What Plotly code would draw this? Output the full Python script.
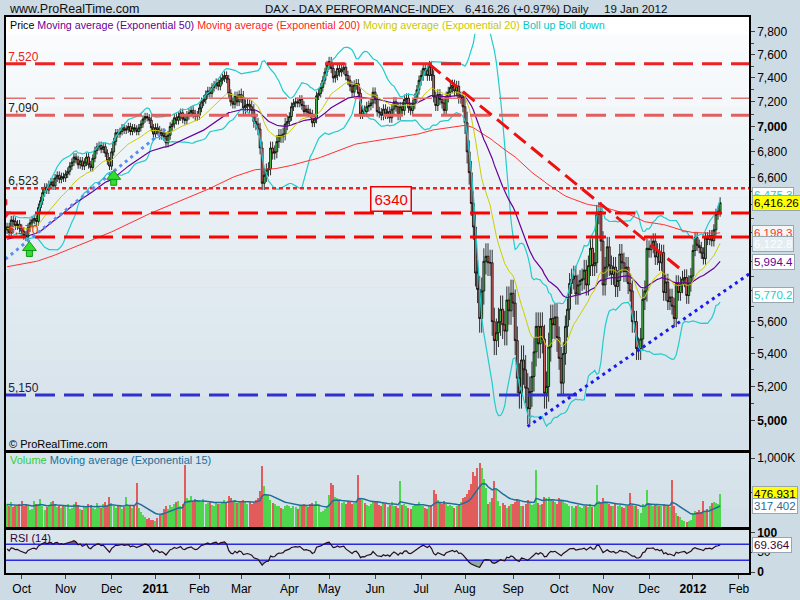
import numpy as np
import pandas as pd
import plotly.graph_objects as go

# ---------------- data ----------------
close_2010_09 = [6240, 6200, 6290, 6280, 6250, 6260, 6230]
close_2010_10 = [6210, 6180, 6170, 6235, 6270, 6290, 6300, 6280, 6380, 6430, 6490,
                 6530, 6510, 6550, 6570, 6540, 6600, 6620, 6590, 6610, 6600]
close_2010_11 = [6630, 6650, 6690, 6720, 6760, 6740, 6700, 6730, 6690, 6720, 6760,
                 6700, 6680, 6750, 6810, 6840, 6850, 6820, 6840, 6790, 6730, 6690]
close_2010_12 = [6800, 6880, 6950, 6940, 6960, 6990, 6970, 6980, 7000, 6960, 6990,
                 6980, 6960, 6990, 7020, 7060, 7080, 7070, 7050, 6990, 6940]
close_2011_01 = [6990, 6970, 6930, 6950, 6920, 6870, 6930, 7000, 7020, 7070, 7050,
                 7080, 7110, 7060, 7050, 7090, 7110, 7130, 7100, 7080, 7090]
close_2011_02 = [7150, 7200, 7220, 7260, 7290, 7270, 7320, 7340, 7360, 7330, 7380,
                 7400, 7420, 7390, 7270, 7200, 7180, 7250, 7200, 7260]
close_2011_03 = [7240, 7150, 7170, 7180, 7160, 7130, 7040, 7020, 6980, 6830, 6560,
                 6620, 6660, 6670, 6830, 6790, 6800, 6880, 6930, 6920, 6940, 7020, 7040]
close_2011_04 = [7080, 7160, 7190, 7200, 7190, 7220, 7170, 7120, 7140, 7110, 7100,
                 7030, 7060, 7250, 7270, 7320, 7380, 7450, 7510]
close_2011_05 = [7540, 7480, 7400, 7420, 7480, 7450, 7470, 7490, 7420, 7380, 7330,
                 7280, 7340, 7350, 7270, 7100, 7130, 7120, 7160, 7170, 7190, 7280]
close_2011_06 = [7220, 7120, 7110, 7090, 7140, 7100, 7120, 7070, 7140, 7200, 7160,
                 7090, 7160, 7130, 7220, 7230, 7150, 7130, 7180, 7230, 7300, 7380]
close_2011_07 = [7420, 7480, 7460, 7420, 7500, 7420, 7240, 7170, 7260, 7220, 7190,
                 7130, 7240, 7280, 7320, 7340, 7290, 7330, 7230, 7240, 7160]
close_2011_08 = [7030, 6800, 6640, 6410, 6240, 5920, 5810, 5620, 5800, 6000, 6035,
                 5990, 5990, 5600, 5480, 5530, 5600, 5680, 5580, 5540, 5740, 5670, 5785]
close_2011_09 = [5720, 5480, 5250, 5160, 5360, 5300, 5190, 5070, 5170, 5260, 5410,
                 5570, 5460, 5570, 5490, 5160, 5200, 5440, 5620, 5580, 5630, 5500]
close_2011_10 = [5370, 5220, 5400, 5570, 5680, 5850, 5880, 5900, 5780, 5840, 5870,
                 5880, 5940, 5840, 5970, 6090, 5970, 5990, 6330, 6350, 6140]
close_2011_11 = [5840, 5960, 6100, 5970, 5910, 5960, 5830, 5870, 6050, 5990, 5930,
                 5960, 5850, 5800, 5600, 5600, 5430, 5430, 5490, 5745, 5800, 6090]
close_2011_12 = [6080, 6110, 6140, 6030, 6070, 5990, 6060, 5790, 5860, 5730, 5760,
                 5700, 5620, 5850, 5790, 5840, 5880, 5890, 5770, 5850, 5900]
close_2012_01 = [6075, 6166, 6111, 6095, 6057, 6018, 6163, 6152, 6179, 6143, 6220,
                 6332, 6354, 6416.26]
first_open = 6220
# typical wick length (index points) per month, Sep 2010 .. Jan 2012
wick_by_month = [30, 30, 30, 30, 35, 35, 50, 35, 40, 40, 45, 90, 90, 70, 70, 55, 40]

# volume in thousands
vol_2010_09 = [340, 300, 360, 290, 310, 300, 330]
vol_2010_10 = [385, 305, 330, 320, 245, 270, 375, 330, 330, 410, 310, 250, 285, 320,
               365, 375, 330, 290, 300, 280, 310]
vol_2010_11 = [300, 340, 260, 280, 330, 360, 300, 270, 250, 310, 290, 340, 320, 280,
               260, 350, 300, 280, 330, 360, 310, 440]
vol_2010_12 = [350, 300, 280, 320, 300, 270, 290, 440, 300, 320, 280, 310, 640, 280,
               220, 180, 150, 120, 130, 110, 100]
vol_2011_01 = [90, 140, 170, 200, 260, 300, 270, 320, 290, 340, 360, 380, 300, 330,
               900, 420, 400, 450, 380, 410, 390]
vol_2011_02 = [380, 360, 410, 330, 350, 380, 320, 300, 360, 340, 330, 370, 390, 360,
               450, 420, 380, 400, 350, 380]
vol_2011_03 = [370, 400, 380, 340, 360, 330, 360, 400, 420, 520, 880, 590, 480, 470,
               400, 350, 330, 300, 310, 280, 270, 300, 320]
vol_2011_04 = [300, 280, 310, 290, 270, 300, 320, 340, 310, 290, 330, 350, 310, 380,
               300, 220, 240, 260, 290]
vol_2011_05 = [470, 640, 610, 430, 420, 380, 350, 370, 340, 380, 360, 330, 350, 370,
               750, 420, 400, 350, 320, 300, 330, 360]
vol_2011_06 = [370, 380, 320, 300, 350, 330, 290, 320, 360, 300, 310, 280, 660, 320,
               340, 300, 280, 260, 300, 320, 340, 360]
vol_2011_07 = [300, 310, 280, 260, 300, 320, 540, 480, 400, 350, 330, 380, 340, 310,
               320, 300, 280, 300, 330, 360, 420]
vol_2011_08 = [430, 480, 540, 620, 790, 740, 860, 930, 850, 700, 560, 330, 360, 420,
               670, 540, 380, 310, 350, 320, 280, 300, 330]
vol_2011_09 = [330, 360, 410, 380, 300, 310, 340, 400, 360, 320, 330, 830, 350, 320,
               330, 430, 420, 440, 400, 380, 360, 340]
vol_2011_10 = [420, 400, 380, 350, 330, 300, 310, 280, 300, 320, 290, 280, 300, 310,
               290, 330, 290, 300, 610, 380, 350]
vol_2011_11 = [420, 380, 360, 340, 300, 310, 330, 300, 320, 290, 280, 300, 310, 490,
               320, 300, 310, 260, 200, 330, 300, 540]
vol_2011_12 = [350, 320, 300, 340, 330, 310, 300, 330, 320, 300, 290, 680, 300, 210,
               160, 150, 110, 90, 70, 90, 110]
vol_2012_01 = [186, 233, 224, 243, 219, 376, 224, 257, 305, 352, 362, 352, 340, 476.931]

# indicator starting values read at the left edge of the picture
ema20_start, ema50_start, ema200_start, vol_ema_start = 6230, 6150, 5960, 330
rsi_gain_start, rsi_loss_start = 22.0, 17.0

month_tick_labels = ["Oct", "Nov", "Dec", "<b>2011</b>", "Feb", "Mar", "Apr", "May", "Jun",
                     "Jul", "Aug", "Sep", "Oct", "Nov", "Dec", "<b>2012</b>", "Feb"]
price_tick_values = [5000, 5200, 5400, 5600, 5800, 6000, 6200, 6400, 6600, 6800,
                     7000, 7200, 7400, 7600, 7800]
price_tick_text = ["<b>5,000</b>", "5,200", "5,400", "5,600", "", "", "", "", "6,600",
                   "6,800", "<b>7,000</b>", "7,200", "7,400", "7,600", "7,800"]
level_values = [7520, 7230, 7090, 6523, 6340, 6170, 5150]
level_labels = ["7,520", "", "7,090", "6,523", "", "6,170", "5,150"]
last_value_labels = ["6,475.3", "6,416.26", "6,198.3", "6,122.8", "5,994.4", "5,770.2"]
last_value_prices = [6475.3, 6416.26, 6198.3, 6122.8, 5994.4, 5770.2]
volume_labels = ["476,931", "317,402"]
volume_label_values = [476.931, 317.402]
rsi_label, rsi_label_value = "69.364", 69.364
# trend lines (start/end trading-day index, price)
red_trend = ([201.7, 323.3], [7520, 5932])
blue_trend = ([248.9, 354.8], [4967, 5913])
lightblue_trend = ([-0.8, 77.1], [6015, 6995])
signal_up = ([10.7, 51.0], [6075, 6590])
box_6340 = (183.6, 6443, "6340")

# ---------------- assembly ----------------
close_months = [close_2010_09, close_2010_10, close_2010_11, close_2010_12, close_2011_01,
                close_2011_02, close_2011_03, close_2011_04, close_2011_05, close_2011_06,
                close_2011_07, close_2011_08, close_2011_09, close_2011_10, close_2011_11,
                close_2011_12, close_2012_01]
vol_months = [vol_2010_09, vol_2010_10, vol_2010_11, vol_2010_12, vol_2011_01, vol_2011_02,
              vol_2011_03, vol_2011_04, vol_2011_05, vol_2011_06, vol_2011_07, vol_2011_08,
              vol_2011_09, vol_2011_10, vol_2011_11, vol_2011_12, vol_2012_01]
for cm, vm in zip(close_months, vol_months):
    assert len(cm) == len(vm), (len(cm), len(vm))

close = np.array([v for m in close_months for v in m], dtype=float)
vol = np.array([v for m in vol_months for v in m], dtype=float)
wick = np.array([w for m, w in zip(close_months, wick_by_month) for _ in m], dtype=float)
n = len(close)
idx = np.arange(n)
opn = np.r_[first_open, close[:-1]]
high = np.maximum(opn, close) + wick
low = np.minimum(opn, close) - wick

holidays = pd.to_datetime(["2010-12-24", "2010-12-31", "2011-04-22", "2011-04-25", "2011-12-26"])
all_days = pd.bdate_range("2010-09-22", "2012-02-29")
all_days = all_days[~all_days.isin(holidays)]
month_starts = pd.date_range("2010-10-01", "2012-02-01", freq="MS")
tick_idx = [int(np.searchsorted(all_days.values, m.to_datetime64())) for m in month_starts]


def ema(values, span, seed):
    a = 2.0 / (span + 1)
    out = np.empty(len(values))
    prev = seed
    for i, v in enumerate(values):
        prev = prev + a * (v - prev)
        out[i] = prev
    return out


ema20 = ema(close, 20, ema20_start)
ema50 = ema(close, 50, ema50_start)
ema200 = ema(close, 200, ema200_start)
vol_ema = ema(vol, 15, vol_ema_start)
s = pd.Series(close)
mid = s.rolling(20, min_periods=4).mean()
sd = s.rolling(20, min_periods=4).std(ddof=0)
bb_up = (mid + 2 * sd).values
bb_dn = (mid - 2 * sd).values

rsi = np.empty(n)
ag, al = rsi_gain_start, rsi_loss_start
for i in range(n):
    dlt = close[i] - opn[i]
    ag = (ag * 13 + max(dlt, 0)) / 14
    al = (al * 13 + max(-dlt, 0)) / 14
    rsi[i] = 100 - 100 / (1 + ag / al)

# ---------------- geometry ----------------
W, H = 800, 600
ML, MR, MT, MB = 4, 51, 17, 21
PH = H - MT - MB


def fy(px):  # pixel row -> paper fraction
    return (H - MB - px) / PH


X_RANGE = [-0.5, 354.8]
Y_MAIN = [np.log10(4834), np.log10(7933.5)]
dom_main = [fy(455), 1.0]
dom_vol = [fy(533), fy(458)]
dom_rsi = [0.0, fy(536)]
FONT = "Liberation Sans, Arial, sans-serif"

fig = go.Figure()

# indicators
fig.add_trace(go.Scatter(x=idx, y=bb_up, mode="lines", line=dict(color="#22cccc", width=1.2),
                         xaxis="x", yaxis="y"))
fig.add_trace(go.Scatter(x=idx, y=bb_dn, mode="lines", line=dict(color="#22cccc", width=1.2),
                         xaxis="x", yaxis="y"))
fig.add_trace(go.Scatter(x=idx, y=ema200, mode="lines", line=dict(color="#ff3030", width=1),
                         xaxis="x", yaxis="y"))
fig.add_trace(go.Scatter(x=idx, y=ema50, mode="lines", line=dict(color="#660099", width=1.2),
                         xaxis="x", yaxis="y"))
fig.add_trace(go.Scatter(x=idx, y=ema20, mode="lines", line=dict(color="#cccc00", width=1),
                         xaxis="x", yaxis="y"))

# left level labels (drawn under the candles)
lab_colors = ["#ee2222", "#222222", "#222222", "#222222", "#ee2222", "#ee2222", "#222244"]
for v, t, c in zip(level_values, level_labels, lab_colors):
    if t:
        fig.add_trace(go.Scatter(x=[0.6], y=[v], mode="text", text=[t], textposition="top right",
                                 textfont=dict(family=FONT, size=12, color=c),
                                 xaxis="x", yaxis="y"))

# candles
fig.add_trace(go.Candlestick(x=idx, open=opn, high=high, low=low, close=close,
                             increasing=dict(line=dict(color="#000000", width=0.8), fillcolor="#4ccc4c"),
                             decreasing=dict(line=dict(color="#000000", width=0.8), fillcolor="#e86a6a"),
                             whiskerwidth=0, xaxis="x", yaxis="y"))

# horizontal levels
lvl_styles = [("#ee2222", 3, "20px,9px"), ("#e07070", 1.5, "20px,9px"), ("#e06060", 3, "20px,9px"),
              ("#ee2222", 2.5, "4px,3px"), ("#ff0000", 3, "20px,9px"), ("#ff0000", 3, "20px,9px"),
              ("#3030d0", 3, "20px,9px")]
for v, (c, w, dsh) in zip(level_values, lvl_styles):
    fig.add_trace(go.Scatter(x=X_RANGE, y=[v, v], mode="lines", line=dict(color=c, width=w, dash=dsh),
                             xaxis="x", yaxis="y"))

# trend lines
fig.add_trace(go.Scatter(x=red_trend[0], y=red_trend[1], mode="lines",
                         line=dict(color="#ee1111", width=3, dash="15px,7px"), xaxis="x", yaxis="y"))
fig.add_trace(go.Scatter(x=blue_trend[0], y=blue_trend[1], mode="lines",
                         line=dict(color="#1a1aee", width=3, dash="3px,4px"), xaxis="x", yaxis="y"))
fig.add_trace(go.Scatter(x=lightblue_trend[0], y=lightblue_trend[1], mode="lines",
                         line=dict(color="#5b8cf0", width=3, dash="3px,4px"), xaxis="x", yaxis="y"))


def pshift(p, dpx):  # move a price by dpx pixels downward on the log axis
    return p * np.exp(-dpx / 884.0)


# signal arrows
for xi, p in zip(*signal_up):
    fig.add_trace(go.Scatter(x=[xi], y=[pshift(p, 3)], mode="markers",
                             marker=dict(symbol="square", size=6, color="#33dd33",
                                         line=dict(color="#119911", width=1)), xaxis="x", yaxis="y"))
    fig.add_trace(go.Scatter(x=[xi], y=[pshift(p, -3)], mode="markers",
                             marker=dict(symbol="triangle-up", size=12, color="#33dd33",
                                         line=dict(color="#119911", width=1)), xaxis="x", yaxis="y"))
fig.add_trace(go.Scatter(x=[-1.3], y=[6420], mode="markers",
                         marker=dict(symbol="square", size=6, color="#ee2222"), xaxis="x", yaxis="y"))
fig.add_trace(go.Scatter(x=[-1.3], y=[6330], mode="markers",
                         marker=dict(symbol="triangle-down", size=12, color="#ee2222"), xaxis="x", yaxis="y"))

# volume
up = close >= opn
vol_colors = ["#4fd64f" if u else "#e25c5c" for u in up]
fig.add_trace(go.Bar(x=idx, y=vol, width=0.6,
                     marker=dict(color=vol_colors, line=dict(width=0)),
                     xaxis="x2", yaxis="y2"))
fig.add_trace(go.Scatter(x=idx, y=vol_ema, mode="lines", line=dict(color="#1f6e9a", width=1.5),
                         xaxis="x2", yaxis="y2"))

# RSI with zone fills
fig.add_trace(go.Scatter(x=idx, y=np.full(n, 30.0), mode="lines", line=dict(width=0),
                         xaxis="x3", yaxis="y3"))
fig.add_trace(go.Scatter(x=idx, y=np.minimum(rsi, 30), mode="lines", line=dict(width=0),
                         fill="tonexty", fillcolor="#8fae9c", xaxis="x3", yaxis="y3"))
fig.add_trace(go.Scatter(x=idx, y=np.full(n, 70.0), mode="lines", line=dict(width=0),
                         xaxis="x3", yaxis="y3"))
fig.add_trace(go.Scatter(x=idx, y=np.maximum(rsi, 70), mode="lines", line=dict(width=0),
                         fill="tonexty", fillcolor="#7a5a78", xaxis="x3", yaxis="y3"))
for lv in (30, 70):
    fig.add_trace(go.Scatter(x=X_RANGE, y=[lv, lv], mode="lines", line=dict(color="#2a2ae0", width=1.5),
                             xaxis="x3", yaxis="y3"))
fig.add_trace(go.Scatter(x=idx, y=rsi, mode="lines", line=dict(color="#2a0a22", width=1.2),
                         xaxis="x3", yaxis="y3"))

# ---------------- backgrounds ----------------
shapes = []


def gradient(dom, c_top, c_bot, steps):
    t = np.array([int(c_top[i:i + 2], 16) for i in (1, 3, 5)], float)
    b = np.array([int(c_bot[i:i + 2], 16) for i in (1, 3, 5)], float)
    h = (dom[1] - dom[0]) / steps
    for k in range(steps):
        f = k / max(steps - 1, 1)
        c = t + (b - t) * f
        shapes.append(dict(type="rect", xref="paper", yref="paper", x0=0, x1=1,
                           y0=dom[1] - (k + 1) * h, y1=dom[1] - k * h + 0.0005,
                           fillcolor="rgb(%d,%d,%d)" % tuple(c), line=dict(width=0), layer="below"))


gradient(dom_main, "#fbfdfe", "#d4e1ea", 24)
gradient(dom_vol, "#d9e5ec", "#d2dfe8", 4)
gradient(dom_rsi, "#dae5ec", "#d2dfe8", 3)
# white legend band at the top of the price panel
shapes.append(dict(type="rect", xref="paper", yref="paper", x0=0, x1=1, y0=fy(34), y1=1.0,
                   fillcolor="#ffffff", line=dict(width=0), layer="above"))

# ---------------- annotations ----------------
ann = []


def txt(x_px, y_px, text, size=11, color="#000", xanchor="left"):
    ann.append(dict(xref="paper", yref="paper", x=(x_px - ML) / (W - ML - MR), y=fy(y_px),
                    text=text, showarrow=False, xanchor=xanchor, yanchor="middle",
                    font=dict(family=FONT, size=size, color=color)))


txt(5, 9, "www.ProRealTime.com", 12.5, "#111")
txt(262, 9, "DAX - DAX PERFORMANCE-INDEX", 11.5, "#111")
txt(462, 9, "6,416.26 (+0.97%)", 11.5, "#111")
txt(560, 9, "Daily", 11.5, "#111")
txt(602, 9, "19 Jan 2012", 11.5, "#111")
txt(6, 25, "Price <span style='color:#660099'>Moving average (Exponential 50)</span> "
           "<span style='color:#ff2020'>Moving average (Exponential 200)</span> "
           "<span style='color:#c8c800'>Moving average (Exponential 20)</span> "
           "<span style='color:#00c8c8'>Boll up Boll down</span>", 10.7, "#000")
txt(5, 449, "© ProRealTime.com", 11, "#000")
txt(6, 465, "<span style='color:#33cc33'>Volume</span> Moving average (Exponential 15)", 11, "#1a6e9a")
txt(6, 544, "RSI (14)", 11, "#330033")

box_styles = [("#22cccc", "#ffffff"), ("#000000", "#ffff00"), ("#ff3030", "#f6f6f6"),
              ("#ffffff", "#e4edf2"), ("#660099", "#ffffff"), ("#22cccc", "#ffffff")]
order = [0, 2, 3, 4, 5, 1]
for k in order:
    fc, bg = box_styles[k]
    ann.append(dict(xref="paper", yref="y", x=1.004, y=np.log10(last_value_prices[k]),
                    text=last_value_labels[k], showarrow=False, xanchor="left", yanchor="middle",
                    bgcolor=bg, bordercolor="#98a6b0", borderwidth=1, borderpad=1,
                    font=dict(family=FONT, size=11.5, color=fc)))
for t, v, fc, bg in zip(volume_labels, volume_label_values, ["#000000", "#1f6e9a"], ["#ffff00", "#ffffff"]):
    ann.append(dict(xref="paper", yref="y2", x=1.004, y=v, text=t, showarrow=False,
                    xanchor="left", yanchor="middle", bgcolor=bg, bordercolor="#98a6b0",
                    borderwidth=1, borderpad=1, font=dict(family=FONT, size=11.5, color=fc)))
ann.append(dict(xref="paper", yref="y3", x=1.004, y=rsi_label_value, text=rsi_label, showarrow=False,
                xanchor="left", yanchor="middle", bgcolor="#ffffff", bordercolor="#98a6b0",
                borderwidth=1, borderpad=1, font=dict(family=FONT, size=11.5, color="#440033")))
ann.append(dict(xref="x", yref="y", x=box_6340[0], y=np.log10(box_6340[1]), text=box_6340[2],
                showarrow=False, xanchor="center", yanchor="middle", bgcolor="#eef4f7",
                bordercolor="#ee0000", borderwidth=1.5, borderpad=3,
                font=dict(family=FONT, size=15, color="#ee0000")))

axis_common = dict(showline=True, linecolor="#000000", linewidth=1.5, mirror=True,
                   showgrid=False, zeroline=False)
fig.update_layout(
    width=W, height=H, autosize=False, showlegend=False, hovermode=False,
    margin=dict(l=ML, r=MR, t=MT, b=MB, pad=0),
    paper_bgcolor="#cddbe4", plot_bgcolor="#cddbe4",
    font=dict(family=FONT, size=12, color="#000"),
    shapes=shapes, annotations=ann, bargap=0, boxgap=0.12, boxgroupgap=0,
    xaxis=dict(domain=[0, 1], anchor="y", range=X_RANGE, showticklabels=False, ticks="",
               rangeslider=dict(visible=False), **axis_common),
    xaxis2=dict(domain=[0, 1], anchor="y2", matches="x", range=X_RANGE, showticklabels=False,
                ticks="", **axis_common),
    xaxis3=dict(domain=[0, 1], anchor="y3", matches="x", range=X_RANGE, tickmode="array",
                tickvals=tick_idx, ticktext=month_tick_labels, ticks="outside", ticklen=4,
                tickcolor="#444", tickfont=dict(family=FONT, size=12, color="#000"), **axis_common),
    yaxis=dict(domain=dom_main, anchor="x", side="right", type="log", range=Y_MAIN,
               tickmode="array", tickvals=price_tick_values, ticktext=price_tick_text,
               ticks="outside", ticklen=4, tickcolor="#444",
               minor=dict(tickmode="array", tickvals=[v + 100 for v in price_tick_values[:-1]],
                          ticks="outside", ticklen=3, tickcolor="#444"),
               tickfont=dict(family=FONT, size=12, color="#000"), **axis_common),
    yaxis2=dict(domain=dom_vol, anchor="x2", side="right", range=[0, 1071.4], tickmode="array",
                tickvals=[500, 1000], ticktext=["", "1,000K"], ticks="outside", ticklen=4,
                tickcolor="#444", tickfont=dict(family=FONT, size=12, color="#000"), **axis_common),
    yaxis3=dict(domain=dom_rsi, anchor="x3", side="right", range=[-2.5, 105], tickmode="array",
                tickvals=[0, 50, 100], ticktext=["<b>0</b>", "50", "<b>100</b>"], ticks="outside",
                ticklen=4, tickcolor="#444", tickfont=dict(family=FONT, size=12, color="#000"),
                **axis_common),
)

fig.write_html("out.html", config={"displayModeBar": False},
               post_script="document.body.style.margin='0px';document.body.style.overflow='hidden';")
